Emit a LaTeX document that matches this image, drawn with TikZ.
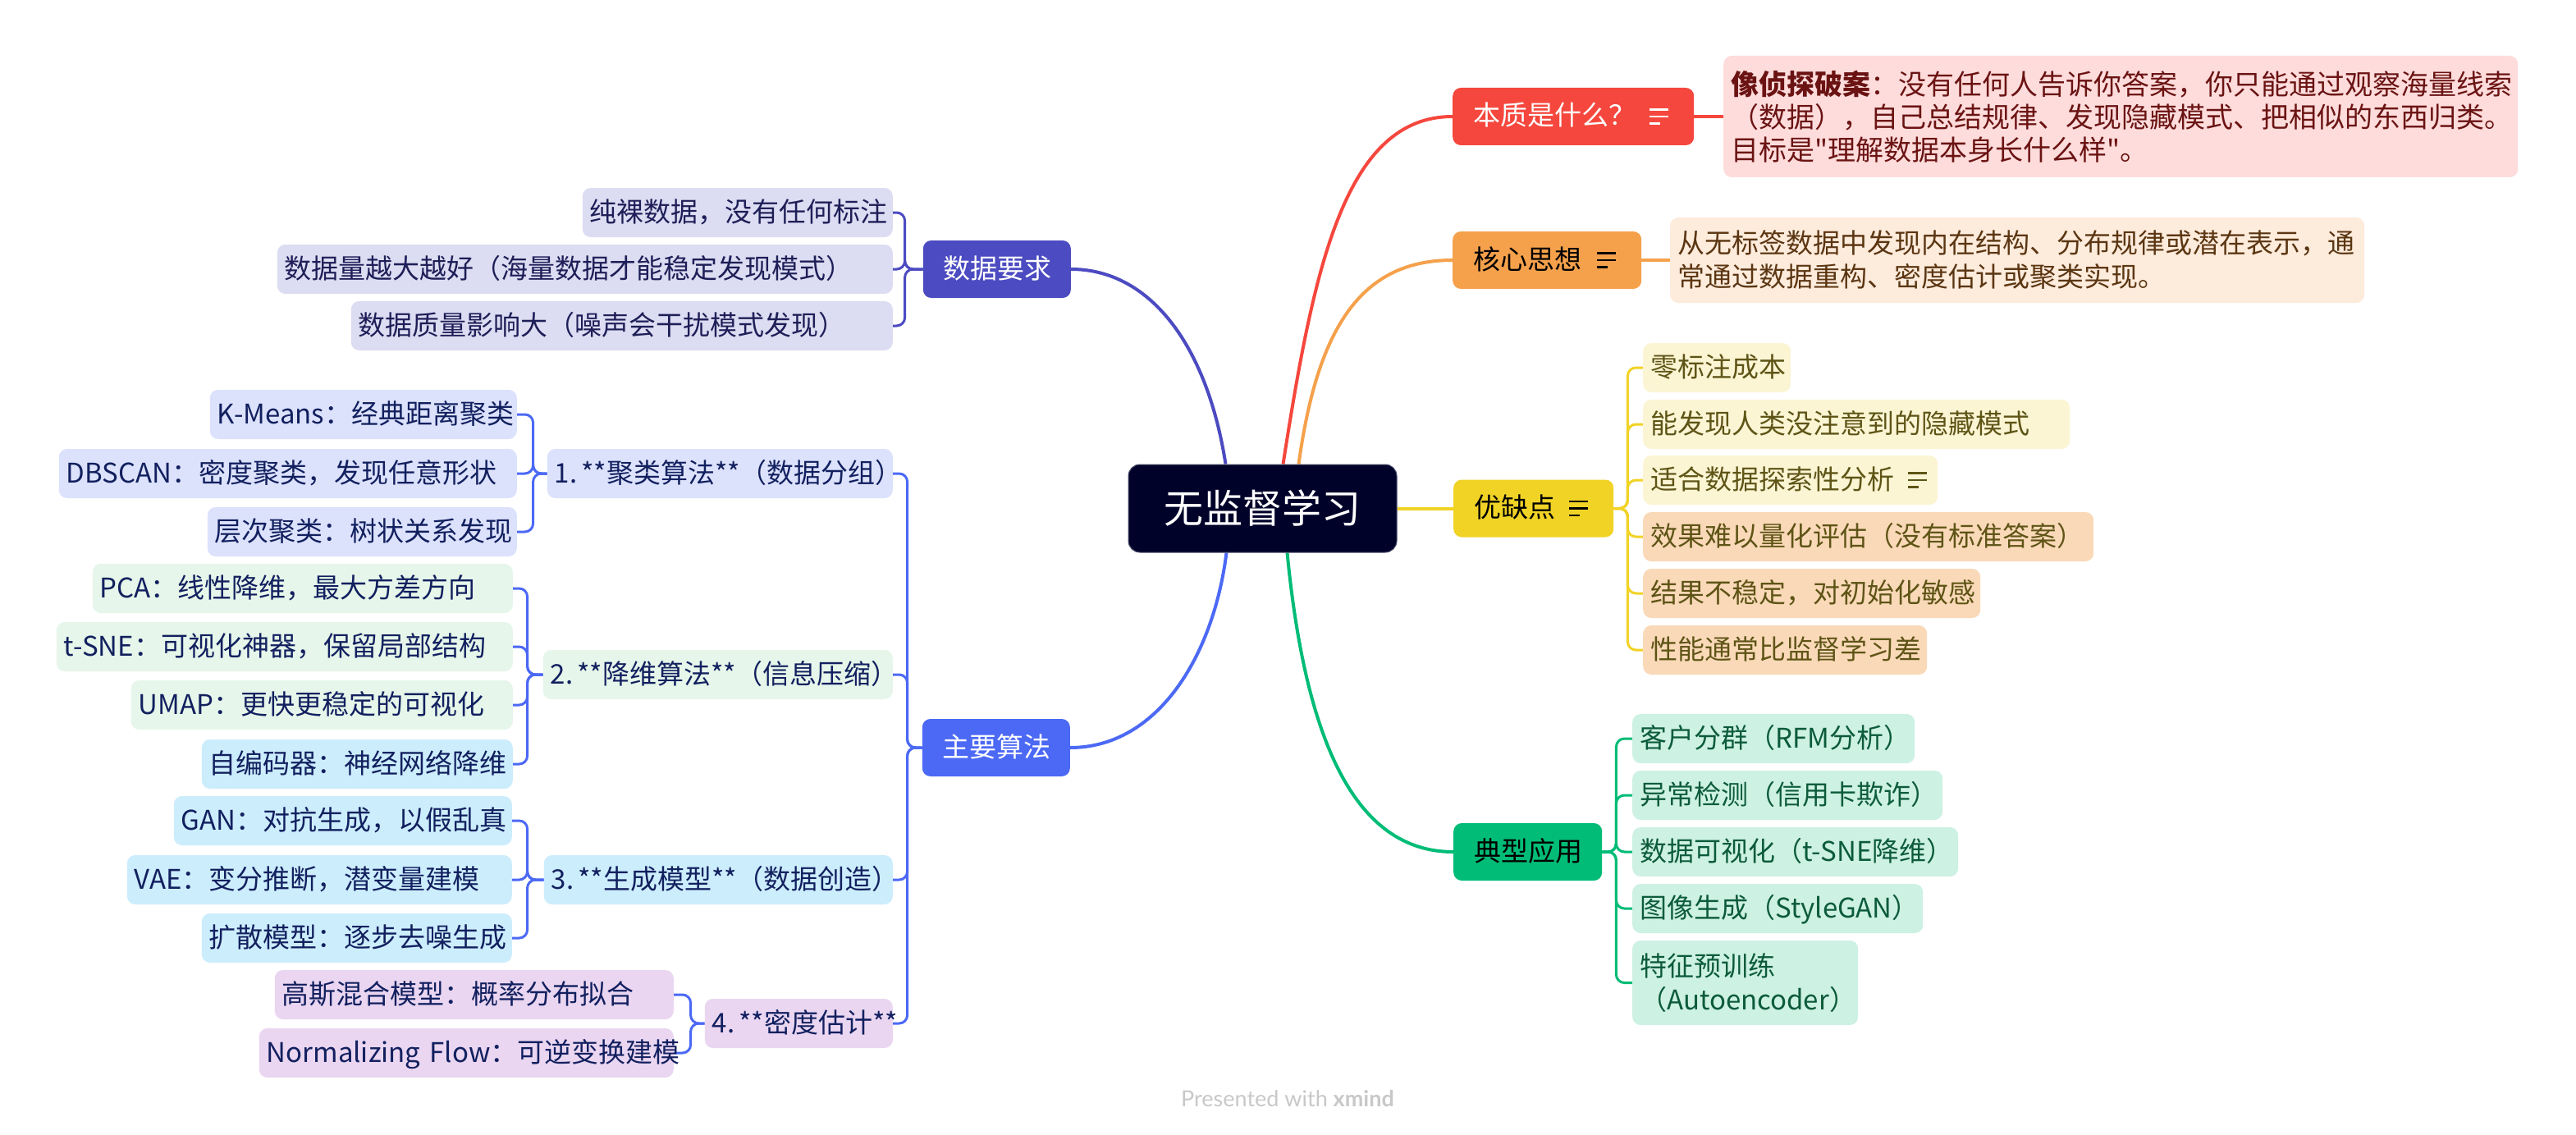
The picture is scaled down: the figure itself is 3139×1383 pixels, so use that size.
\documentclass[tikz,border=0pt]{standalone}
\usepackage{fontspec}
\setmainfont{Noto Sans CJK SC}[Ligatures=TeXOff]
\newfontfamily\footfont{Lato}
\usetikzlibrary{calc}
\pgfdeclarelayer{bg}
\pgfsetlayers{bg,main}

\definecolor{cnavy}{HTML}{00022A}
\definecolor{cred}{HTML}{F5473D}
\definecolor{cpink}{HTML}{FDDCDB}
\definecolor{cpinktxt}{HTML}{6B1313}
\definecolor{corange}{HTML}{F5A14C}
\definecolor{cpeach}{HTML}{FDEBDC}
\definecolor{cpeachtxt}{HTML}{5B3612}
\definecolor{cyellow}{HTML}{F1D326}
\definecolor{cylight}{HTML}{FBF5D4}
\definecolor{cyorange}{HTML}{FAD9B8}
\definecolor{cytxt}{HTML}{5E5416}
\definecolor{cgreen}{HTML}{00BC77}
\definecolor{cmint}{HTML}{CDF1E3}
\definecolor{cgtxt}{HTML}{0C5B3B}
\definecolor{cpurple}{HTML}{4C4BC1}
\definecolor{clav}{HTML}{DCDCF2}
\definecolor{cptxt}{HTML}{1E1E58}
\definecolor{cblue}{HTML}{4C69F5}
\definecolor{cbone}{HTML}{DCE2FC}
\definecolor{cbtwo}{HTML}{E6F6EA}
\definecolor{cbthree}{HTML}{CCEDFC}
\definecolor{cbfour}{HTML}{EAD6F1}
\definecolor{cbtxt}{HTML}{12205F}
\definecolor{cfoot}{HTML}{C8C8C8}

\newcommand{\subfs}{\fontsize{33pt}{41pt}\selectfont}
\newcommand{\descfs}{\fontsize{34pt}{40pt}\selectfont}
\newcommand{\centerfs}{\fontsize{48pt}{56pt}\selectfont}
\newcommand{\nsp}{\hspace{5pt}}

\begin{document}
\begin{tikzpicture}[x=1pt,y=-1pt,
  msub/.style={rounded corners=10pt, inner xsep=9pt, inner ysep=0pt, minimum height=60pt, font=\subfs, align=left, text height=27pt, text depth=5pt},
  rs/.style={msub, anchor=west},
  ls/.style={msub, anchor=east},
  mainbox/.style={rounded corners=10pt, inner xsep=25pt, inner ysep=0pt, minimum height=70pt, font=\subfs, text height=27pt, text depth=5pt},
  desc/.style={rounded corners=10pt, inner xsep=9pt, inner ysep=0pt, anchor=west, font=\subfs, align=left},
  mcurve/.style={line width=4pt},
  brk/.style={line width=3pt, rounded corners=10pt},
  icn/.style={line width=2.6pt}
]
\useasboundingbox (0,0) rectangle (3139,1383);
\begin{pgfonlayer}{bg}
\fill[white] (0,0) rectangle (3139,1383);
\end{pgfonlayer}

% central
\node[rounded corners=14pt, fill=cnavy, draw=cnavy!70!white, line width=1pt, text=white, font=\centerfs, minimum width=327pt, minimum height=107pt, inner sep=0pt] (c) at (1538.5,619.5) {无监督学习};

% ---------- right side ----------
\node[mainbox, anchor=west, fill=cred, text=white, text width=244pt, align=left] (n1) at (1770,142) {本质是什么？};
\node[desc, fill=cpink, text=cpinktxt, text width=950pt, minimum height=148pt, font=\descfs] (d1) at (2100,142) {\textbf{像侦探破案}：没有任何人告诉你答案，你只能通过观察海量线索\\（数据），自己总结规律、发现隐藏模式、把相似的东西归类。\\目标是"理解数据本身长什么样"。};

\node[mainbox, anchor=west, fill=corange, text=black, text width=180pt, align=left] (n2) at (1770,317) {核心思想};
\node[desc, fill=cpeach, text=cpeachtxt, text width=828pt, minimum height=104pt] (d2) at (2035,317) {从无标签数据中发现内在结构、分布规律或潜在表示，通\\常通过数据重构、密度估计或聚类实现。};

\node[mainbox, anchor=west, fill=cyellow, text=black, text width=145pt, align=left] (n3) at (1771,619.5) {优缺点};
\node[rs, fill=cylight, text=cytxt, text width=162pt] (c31) at (2002,448) {\mbox{零标注成本}};
\node[rs, fill=cylight, text=cytxt, text width=502pt] (c32) at (2002,517) {\mbox{能发现人类没注意到的隐藏模式}};
\node[rs, fill=cylight, text=cytxt, text width=341pt] (c33) at (2002,585) {\mbox{适合数据探索性分析}};
\node[rs, fill=cyorange, text=cytxt, text width=531pt] (c34) at (2002,654) {\mbox{效果难以量化评估（没有标准答案）}};
\node[rs, fill=cyorange, text=cytxt, text width=393pt] (c35) at (2002,723) {\mbox{结果不稳定，对初始化敏感}};
\node[rs, fill=cyorange, text=cytxt, text width=328pt] (c36) at (2002,792) {\mbox{性能通常比监督学习差}};

\node[mainbox, anchor=west, fill=cgreen, text=black, text width=131pt, align=center] (n4) at (1771,1038) {典型应用};
\node[rs, fill=cmint, text=cgtxt, text width=326pt] (c41) at (1989,900) {\mbox{客户分群（RFM分析）}};
\node[rs, fill=cmint, text=cgtxt, text width=360pt] (c42) at (1989,969) {\mbox{异常检测（信用卡欺诈）}};
\node[rs, fill=cmint, text=cgtxt, text width=379pt] (c43) at (1989,1038) {\mbox{数据可视化（t-SNE降维）}};
\node[rs, fill=cmint, text=cgtxt, text width=336pt] (c44) at (1989,1107) {\mbox{图像生成（StyleGAN）}};
\node[desc, fill=cmint, text=cgtxt, text width=257pt, minimum height=103pt] (c45) at (1989,1197.5) {特征预训练\\（Autoencoder）};

% ---------- left side ----------
\node[mainbox, anchor=east, fill=cpurple, text=white, text width=130pt, align=center] (n5) at (1305,328) {数据要求};
\node[ls, fill=clav, text=cptxt, text width=360pt] (c51) at (1088,259) {\mbox{纯裸数据，没有任何标注}};
\node[ls, fill=clav, text=cptxt, text width=732pt] (c52) at (1088,328) {\mbox{数据量越大越好（海量数据才能稳定发现模式）}};
\node[ls, fill=clav, text=cptxt, text width=642pt] (c53) at (1088,397) {\mbox{数据质量影响大（噪声会干扰模式发现）}};

\node[mainbox, anchor=east, fill=cblue, text=white, text width=130pt, align=center] (n6) at (1304,911) {主要算法};
\node[ls, fill=cbone, text=cbtxt, text width=403pt] (g1) at (1088,577) {\mbox{1.\nsp**聚类算法**（数据分组）}};
\node[ls, fill=cbtwo, text=cbtxt, text width=408pt] (g2) at (1088,822) {\mbox{2.\nsp**降维算法**（信息压缩）}};
\node[ls, fill=cbthree, text=cbtxt, text width=407pt] (g3) at (1088,1072) {\mbox{3.\nsp**生成模型**（数据创造）}};
\node[ls, fill=cbfour, text=cbtxt, text width=211pt] (g4) at (1088,1247) {\mbox{4.\nsp**密度估计**}};

\node[ls, fill=cbone, text=cbtxt, text width=356pt] (k1) at (630,505) {\mbox{K-Means：经典距离聚类}};
\node[ls, fill=cbone, text=cbtxt, text width=540pt] (k2) at (630,577) {\mbox{DBSCAN：密度聚类，发现任意形状}};
\node[ls, fill=cbone, text=cbtxt, text width=359pt] (k3) at (630,648) {\mbox{层次聚类：树状关系发现}};

\node[ls, fill=cbtwo, text=cbtxt, text width=494pt] (p1) at (625,717) {\mbox{PCA：线性降维，最大方差方向}};
\node[ls, fill=cbtwo, text=cbtxt, text width=538pt] (p2) at (625,788) {\mbox{t-SNE：可视化神器，保留局部结构}};
\node[ls, fill=cbtwo, text=cbtxt, text width=447pt] (p3) at (625,859) {\mbox{UMAP：更快更稳定的可视化}};
\node[ls, fill=cbthree, text=cbtxt, text width=361pt] (p4) at (625,931) {\mbox{自编码器：神经网络降维}};

\node[ls, fill=cbthree, text=cbtxt, text width=394pt] (v1) at (624,1000) {\mbox{GAN：对抗生成，以假乱真}};
\node[ls, fill=cbthree, text=cbtxt, text width=451pt] (v2) at (624,1072) {\mbox{VAE：变分推断，潜变量建模}};
\node[ls, fill=cbthree, text=cbtxt, text width=360pt] (v3) at (624,1143) {\mbox{扩散模型：逐步去噪生成}};

\node[ls, fill=cbfour, text=cbtxt, text width=468pt] (m1) at (821,1212) {\mbox{高斯混合模型：概率分布拟合}};
\node[ls, fill=cbfour, text=cbtxt, text width=487pt] (m2) at (821,1283) {\mbox{Normalizing Flow：可逆变换建模}};

% footer
\node[text=cfoot, font=\footfont\fontsize{27pt}{31pt}\selectfont] (ft) at (1569,1339) {Presented with \textbf{xmind}};

% notes icons
\foreach \nd/\dx/\col in {n1/-54/white, n2/-54/black, n3/-54/black, c33/-36/cytxt}{
  \coordinate (ic) at ([xshift=\dx pt]\nd.east);
  \draw[icn, \col] ([shift={(0,-8.5)}]ic) -- ++(23,0) ([shift={(0,0)}]ic) -- ++(23,0) ([shift={(0,8.5)}]ic) -- ++(13,0);
}

% ---------- connectors ----------
\begin{pgfonlayer}{bg}
\draw[mcurve, cred] ([xshift=25pt]c.north) .. controls +(37,-237) and +(-132,0) .. (n1.west);
\draw[mcurve, corange] ([xshift=44pt]c.north) .. controls +(23,-167) and +(-111,0) .. (n2.west);
\draw[mcurve, cyellow] (c.east) -- (n3.west);
\draw[mcurve, cgreen] ([xshift=30pt]c.south) .. controls +(22,227) and +(-121,0) .. (n4.west);
\draw[mcurve, cpurple] ([xshift=-45pt]c.north) .. controls +(-23,-147) and +(95,0) .. (n5.east);
\draw[mcurve, cblue] ([xshift=-44pt]c.south) .. controls +(-16,127) and +(106,0) .. (n6.east);

\draw[mcurve, cred] (n1.east) -- (d1.west);
\draw[mcurve, corange] (n2.east) -- (d2.west);

\foreach \ch in {c31,c32,c33,c34,c35,c36}
  \draw[brk, cyellow] (n3.east) -- ++(17,0) |- (\ch.west);
\foreach \ch in {c41,c42,c43,c44,c45}
  \draw[brk, cgreen] (n4.east) -- ++(17,0) |- (\ch.west);
\foreach \ch in {c51,c52,c53}
  \draw[brk, cpurple] (n5.west) -- ++(-22,0) |- (\ch.east);
\foreach \ch in {g1,g2,g3,g4}
  \draw[brk, cblue] (n6.west) -- ++(-18,0) |- (\ch.east);
\foreach \ch in {k1,k2,k3}
  \draw[brk, cblue] (g1.west) -- ++(-17,0) |- (\ch.east);
\foreach \ch in {p1,p2,p3,p4}
  \draw[brk, cblue] (g2.west) -- ++(-19,0) |- (\ch.east);
\foreach \ch in {v1,v2,v3}
  \draw[brk, cblue] (g3.west) -- ++(-20,0) |- (\ch.east);
\foreach \ch in {m1,m2}
  \draw[brk, cblue] (g4.west) -- ++(-17,0) |- (\ch.east);
\end{pgfonlayer}
\end{tikzpicture}
\end{document}
